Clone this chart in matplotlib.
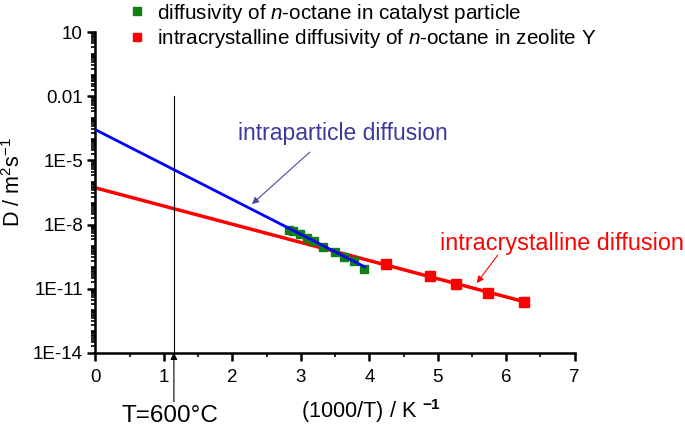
import matplotlib
matplotlib.use('Agg')
import matplotlib.pyplot as plt
from matplotlib.ticker import FixedLocator, LogLocator, NullFormatter, MultipleLocator

plt.rcParams['font.family'] = ['Liberation Sans', 'DejaVu Sans']
plt.rcParams['mathtext.fontset'] = 'custom'
plt.rcParams['mathtext.rm'] = 'Liberation Sans'
plt.rcParams['mathtext.it'] = 'Liberation Sans:italic'
plt.rcParams['mathtext.bf'] = 'Liberation Sans:bold'

# measured points (1000/T in 1/K, D in m2/s)
particle_x = [2.82, 2.89, 2.99, 3.09, 3.19, 3.32, 3.50, 3.63, 3.77, 3.92]
particle_D = [5.4e-9, 4.9e-9, 3.6e-9, 2.4e-9, 1.66e-9, 8.7e-10, 5.0e-10, 2.95e-10, 1.9e-10, 8.7e-11]
crystal_x = [4.25, 4.88, 5.27, 5.73, 6.26]
crystal_D = [1.35e-10, 4.0e-11, 1.7e-11, 6.5e-12, 2.4e-12]

# fitted Arrhenius lines
particle_fit_x = [0, 3.93]
particle_fit_D = [2.75e-4, 1.05e-10]
crystal_fit_x = [0, 6.27]
crystal_fit_D = [5.2e-7, 2.4e-12]

ytick_vals = [1e-14, 1e-11, 1e-8, 1e-5, 1e-2, 10]
ytick_labels = ['1E-14', '1E-11', '1E-8', '1E-5', '0.01', '10']
T_line_x = 1000 / 873.15

fig = plt.figure(figsize=(6.85, 4.28), dpi=100)
ax = fig.add_axes([0.1394, 0.176, 0.6996, 0.7485])

ax.plot(particle_fit_x, particle_fit_D, color='#0000ff', lw=2, zorder=3)
ax.plot(crystal_fit_x, crystal_fit_D, color='#ff0000', lw=2.5, zorder=2)
ax.plot(particle_x, particle_D, 's', color='#118011', ms=6, ls='none',
        label='diffusivity of $\\it{n}$-octane in catalyst particle', zorder=2)
ax.plot(crystal_x, crystal_D, 's', color='#ff0000', ms=6.5, ls='none',
        label='intracrystalline diffusivity of $\\it{n}$-octane in zeolite Y', zorder=4)

ax.set_yscale('log')
ax.set_xlim(0, 7)
ax.set_ylim(1e-14, 10)
ax.yaxis.set_major_locator(FixedLocator(ytick_vals))
ax.set_yticks(ytick_vals, ytick_labels)
ax.yaxis.set_minor_locator(LogLocator(base=10, subs=(1.0, 2, 3, 4, 5, 6, 7, 8, 9), numticks=100))
ax.yaxis.set_minor_formatter(NullFormatter())
ax.xaxis.set_major_locator(MultipleLocator(1))
ax.xaxis.set_minor_locator(MultipleLocator(0.5))

for s in ['top', 'right']:
    ax.spines[s].set_visible(False)
for s in ['left', 'bottom']:
    ax.spines[s].set_linewidth(1.8)
ax.tick_params(axis='both', which='major', direction='out', length=6, width=1.8,
               labelsize=13.5, pad=3)
ax.tick_params(axis='x', which='major', pad=6)
ax.tick_params(axis='both', which='minor', direction='out', length=3, width=1.2)

# axis titles placed by hand (pixel layout of the reference)
ax.text(-0.172, 0.533, 'D / m$^{2}$s$^{-1}$', transform=ax.transAxes, fontsize=15.5,
        rotation=90, ha='center', va='center')
ax.text(0.575, -0.183, '(1000/T) / K $^{\\mathbf{-1}}$', transform=ax.transAxes,
        fontsize=15.7, ha='center', va='center')

# T = 600 C marker line
ax.plot([T_line_x, T_line_x], [1e-14, 1e-2], color='black', lw=0.8)
ax.text(1.09, 10 ** -16.95, 'T=600°C', fontsize=17.5, ha='center', va='center')
ax.annotate('', xy=(T_line_x, 1e-14), xytext=(T_line_x, 10 ** -16.3),
            arrowprops=dict(arrowstyle='-|>', color='black', lw=0.8, mutation_scale=10,
                            shrinkA=0, shrinkB=0),
            annotation_clip=False)

ax.text(2.08, 10 ** -3.72, 'intraparticle diffusion', color='#3a3a9a', fontsize=16.5,
        ha='left', va='center')
ax.annotate('', xy=(2.285, 10 ** -7.045), xytext=(3.13, 10 ** -4.61),
            arrowprops=dict(arrowstyle='-|>', color='#4a4aa0', lw=0.8, mutation_scale=10,
                            shrinkA=0, shrinkB=0))
ax.text(5.03, 10 ** -8.87, 'intracrystalline diffusion', color='#ff0000', fontsize=16.8,
        ha='left', va='center', clip_on=False)
ax.annotate('', xy=(5.57, 10 ** -10.74), xytext=(5.876, 10 ** -9.43),
            arrowprops=dict(arrowstyle='-|>', color='#ff0000', lw=0.8, mutation_scale=10,
                            shrinkA=0, shrinkB=0))

fig.legend(loc='upper left', bbox_to_anchor=(0.158, 1.04), frameon=False,
           fontsize=14.9, handletextpad=0.45, labelspacing=0.12, markerscale=0.85,
           handlelength=1.0)

fig.savefig('out.png', dpi=100)
